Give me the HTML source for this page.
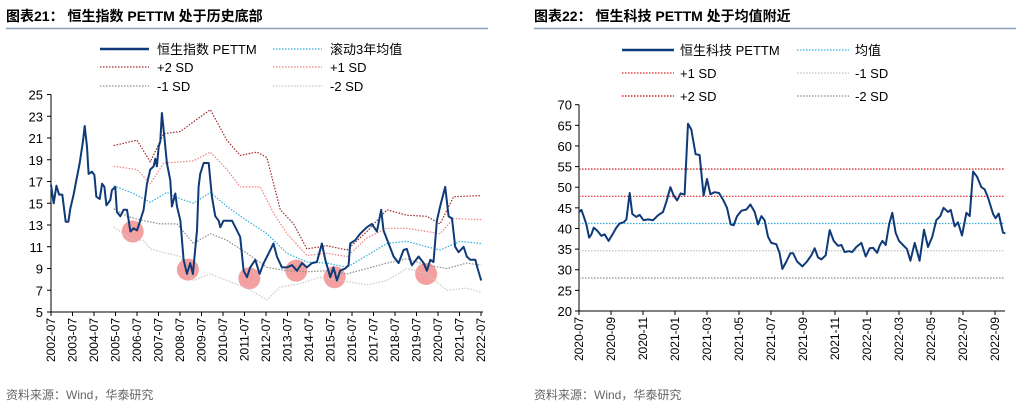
<!DOCTYPE html>
<html><head><meta charset="utf-8">
<style>
body{margin:0;background:#fff;width:1024px;height:405px;overflow:hidden;font-family:"Liberation Sans","Noto Sans CJK SC",sans-serif;}
svg{position:absolute;left:0;top:0}
</style></head>
<body>
<svg width="1024" height="405" xmlns="http://www.w3.org/2000/svg" font-family="Liberation Sans, Noto Sans CJK SC, sans-serif">
<g id="left"></g>
<g id="right"></g>
</svg>
<script>
// ---------- Left chart data (months since 2002-07) ----------
const hsiMonths=[0,1.5,3,4.5,6.3,8.2,9.7,10.8,12.6,14.1,16,17.9,18.8,20.1,21,22.9,24.2,25.3,27.2,28.5,29.8,30.9,33.1,34,35.9,36.8,38.7,40.5,42.4,44.3,46.1,48,49.8,51.7,53.6,55.4,57.3,58.2,59.1,60.1,61,61.9,62.9,64.7,66.6,67.5,69.4,70.3,72.2,74,75.9,77.7,79.2,81.5,82.4,83.3,85.2,88,89.8,91.7,93.6,94.5,96.3,98.2,101,103.8,105.6,107.5,109.4,111.2,114,116.4,118.7,121.5,124.2,126.1,128.9,131.7,134.5,137.3,140.1,142.8,145.6,148.4,151.2,153.1,155.9,157.7,159.6,161.4,164.2,166.1,167,169.8,172.6,176.3,179.1,181.9,184.3,185.6,188.4,191.2,194,196.8,198.6,201.4,205.2,208,209.8,211.7,213.5,215.4,217.2,220,221.9,223.8,225.6,227.5,230.3,232.1,234,236.8,238.1,240.1];
const hsiValues=[16.7,15,16.6,15.8,15.8,13.3,13.3,14.5,15.8,17.1,18.7,20.8,22.1,20.2,17.7,17.9,17.6,15.6,15.4,16.8,16.5,14.8,15.3,16.2,16.5,14.2,13.8,14.4,14.4,12.4,12.7,12.5,13.4,14.4,16.8,18.1,18.4,19.1,18.4,20.2,20.7,23.3,21.7,18.7,17.1,14.7,15.9,14.7,13.4,9.8,8.5,9.5,8.5,12.5,16.5,17.7,18.7,18.7,15.6,13.8,13.4,12.8,13.4,13.4,13.4,12.5,11.9,8.8,8.2,9.1,9.8,8.5,9.5,10.4,11.3,10.1,9.1,9.1,9.3,8.8,9.5,9.1,9.5,9.6,11.3,9.8,8.2,9.1,7.9,8.8,9,9.3,11.3,11.6,12.2,12.8,13.1,12.4,14.4,12.5,11.3,10.1,9.5,10.7,10.8,9.3,10.1,9.5,8.8,9.8,9.6,13.4,14.7,16.5,13.8,13.6,11,10.5,11,10.1,9.8,9.8,9,7.9];
const meanMonths=[35,46.1,55.4,64.7,72.2,79.6,88.9,98.2,109.4,120.5,131.7,142.8,154,165.2,176.3,187.5,198.6,209.8,217.2,228.4,240.1];
const meanValues=[16.6,15.9,15.1,16,15.4,15,16,14.7,13.4,12.2,10.4,9.6,9.5,9.1,10.2,11.3,11.5,11,10.7,11.5,11.3];
const p2Months=[35,48,55.4,62.9,72.2,79.6,88.9,98.2,105.6,115,120.5,128,135.4,142.8,154,165.2,176.3,187.5,198.6,209.8,217.2,224.7,240.1];
const p2Values=[20.3,20.8,18.8,21.4,21.6,22.5,23.6,20.8,19.4,19.7,19.2,14.4,13.1,10.8,11.1,10.7,12.4,14.4,13.9,13.8,13.1,15.6,15.7];
const p1Months=[35,48,55.4,62.9,72.2,79.6,88.9,98.2,105.6,116.8,124.2,131.7,142.8,154,165.2,176.3,187.5,198.6,209.8,217.2,224.7,240.1];
const p1Values=[18.4,18.1,16.8,18.7,18.8,18.9,19.7,18.1,16.5,16.5,14.1,12.2,10.2,10.4,10.1,11.8,12.7,12.7,12.4,12.2,13.6,13.5];
const m1Months=[35,42.4,51.7,61,70.3,79.6,88.9,98.2,109.4,120.5,131.7,142.8,154,165.2,176.3,187.5,198.6,209.8,221,232.1,240.1];
const m1Values=[14.5,13.8,13.4,13.1,13.1,11.3,12.2,11.6,10.4,9.1,8.8,8.7,8.8,8.5,9,9.5,9.9,9.3,9,9.5,9.3];
const m2Months=[35,46.1,51.7,55.4,64.7,72.2,79.6,88.9,98.2,109.4,120.5,128,139.1,150.3,165.2,176.3,187.5,198.6,209.8,221,232.1,240.1];
const m2Values=[12.8,11.6,11.6,10.8,10.4,10.1,7.9,8.5,7.9,7.2,6.1,7.3,7.6,8.2,7.8,7.5,7.9,9,8.5,7,7.2,6.8];
const circleMonths=[45.6,76.4,110.7,136.9,158.3,209.4];
const circleValues=[12.4,8.9,8.1,8.8,8.2,8.5];
const leftYTicks=[5,7,9,11,13,15,17,19,21,23,25];
const leftXLabels=["2002-07","2003-07","2004-07","2005-07","2006-07","2007-07","2008-07","2009-07","2010-07","2011-07","2012-07","2013-07","2014-07","2015-07","2016-07","2017-07","2018-07","2019-07","2020-07","2021-07","2022-07"];

// ---------- Right chart data (months since 2020-07) ----------
const techMonths=[0,.15,.29,.46,.63,.77,.92,1.13,1.4,1.6,1.85,2.08,2.33,2.54,2.79,2.96,3.17,3.33,3.58,3.79,4.04,4.31,4.63,4.94,5.25,5.46,5.71,5.92,6.13,6.35,6.6,6.81,7.02,7.29,7.54,7.79,8,8.21,8.48,8.75,9,9.25,9.48,9.67,9.88,10.15,10.46,10.71,10.98,11.19,11.4,11.6,11.81,12.02,12.33,12.54,12.71,12.96,13.21,13.38,13.63,13.96,14.25,14.52,14.73,14.94,15.15,15.42,15.67,15.92,16.19,16.4,16.6,16.88,17.08,17.33,17.65,17.92,18.17,18.38,18.63,18.79,18.96,19.17,19.38,19.58,19.79,20,20.25,20.5,20.71,20.98,21.29,21.56,21.81,22.08,22.33,22.58,22.79,23.06,23.23,23.48,23.69,23.94,24.21,24.42,24.63,24.88,25.15,25.35,25.56,25.88,26.04,26.23,26.5,26.65];
const techValues=[44,44.5,43,41,37.8,38.5,40.2,39.5,38.2,38.6,37,38.5,40.2,41.2,41.5,42.2,48.6,43.5,42.8,43.3,42,42.2,42,43.2,44,46.5,50,48,46.8,48.5,48.2,65.4,64,58,57.8,48,52,48.3,48.8,48.6,47,45,41,40.8,43,44.3,44.6,45.8,44,41,43,42,38,36.5,36.2,34,30.2,32,34,34,32,30.8,32,33.5,35.2,33,32.5,33.5,39.6,37,35.8,36,34.3,34.5,34.3,35.5,36.5,33.2,35.2,35.3,34.1,35.8,37,36,41,43.8,39,37,36,35,32.2,36.5,32.2,39.7,35.5,38,42,43,45,44,44.5,40.5,41.5,38.3,43.8,43,53.8,52.5,50,49.5,47.5,43.5,42.5,43.6,39,38.8];
const techMean=41.2, techP1=47.8, techP2=54.4, techM1=34.6, techM2=28;
const rightYTicks=[20,25,30,35,40,45,50,55,60,65,70];
const rightXLabels=["2020-07","2020-09","2020-11","2021-01","2021-03","2021-05","2021-07","2021-09","2021-11","2022-01","2022-03","2022-05","2022-07","2022-09"];

const NS="http://www.w3.org/2000/svg";
function mk(parent,tag,attrs,text){const e=document.createElementNS(NS,tag);for(const k in attrs)e.setAttribute(k,attrs[k]);if(text!==undefined)e.textContent=text;parent.appendChild(e);return e;}

// ===== Left chart =====
const L=document.getElementById('left');
const lx0=51,lx1=481,ly0=312,ly1=94.5;
const lxs=m=>lx0+(lx1-lx0)*m/240;
const lys=v=>ly0-(ly0-ly1)*(v-5)/20;
let t=mk(L,'text',{x:6,y:21,'font-size':14,'font-weight':'bold',fill:'#000'},'图表21：  恒生指数 PETTM 处于历史底部');


let r=mk(L,'line',{x1:6,y1:28.5,x2:488,y2:28.5,stroke:'#8aa0b8','stroke-width':1.5});


// axes
let ax=mk(L,'line',{x1:lx0,y1:ly1,x2:lx0,y2:ly0,stroke:'#000','stroke-width':1});


ax=mk(L,'line',{x1:lx0,y1:ly0,x2:lx1+2,y2:ly0,stroke:'#000','stroke-width':1});


leftYTicks.forEach(v=>{const y=lys(v);
 mk(L,'line',{x1:lx0-4,y1:y,x2:lx0,y2:y,stroke:'#000'});
 const e=mk(L,'text',{x:43,y:y+5,'font-size':13,'text-anchor':'end',fill:'#000'},String(v));
 
 });
leftXLabels.forEach((s,i)=>{const x=lxs(i*12);
 mk(L,'line',{x1:x,y1:ly0,x2:x,y2:ly0+4,stroke:'#000'});
 const e=mk(L,'text',{x:0,y:0,'font-size':12,'text-anchor':'end',fill:'#000',transform:`translate(${x+4},${ly0+6}) rotate(-90)`},s);
 
 });
function lpath(ms,vs,stroke,w,dash,name,xs,ys){
 const d=ms.map((m,i)=>(i?'L':'M')+xs(m).toFixed(1)+','+ys(vs[i]).toFixed(1)).join('');
 const p=mk(this,'path',{d,fill:'none',stroke,'stroke-width':w,'stroke-dasharray':dash||'none','stroke-linejoin':'round'});
 
 }
circleMonths.forEach((m,i)=>{const c=mk(L,'circle',{cx:lxs(m),cy:lys(circleValues[i]),r:11,fill:'#f4a0a0'});
 
 });
lpath.call(L,m2Months,m2Values,'#c8c8c8',1.2,'1.5,1.5','minus2sd-line',lxs,lys);
lpath.call(L,m1Months,m1Values,'#8c8c8c',1.2,'1.5,1.5','minus1sd-line',lxs,lys);
lpath.call(L,p1Months,p1Values,'#f08080',1.2,'1.5,1.5','plus1sd-line',lxs,lys);
lpath.call(L,p2Months,p2Values,'#a02828',1.2,'1.5,1.5','plus2sd-line',lxs,lys);
lpath.call(L,meanMonths,meanValues,'#30b0e0',1.2,'1.5,1.5','rolling-mean-line',lxs,lys);
lpath.call(L,hsiMonths,hsiValues,'#0f3a78',2,null,'hsi-pettm-line',lxs,lys);
// left legend
const leftLegend=[[100,49,'#0f3a78',2.5,null,'恒生指数 PETTM'],[273,49,'#30b0e0',1.2,'1.5,1.5','滚动3年均值'],[100,67,'#a02828',1.2,'1.5,1.5','+2 SD'],[273,67,'#f08080',1.2,'1.5,1.5','+1 SD'],[100,86,'#8c8c8c',1.2,'1.5,1.5','-1 SD'],[273,86,'#c8c8c8',1.2,'1.5,1.5','-2 SD']];
leftLegend.forEach(a=>{const g=mk(L,'g',{});
 
 
 mk(g,'line',{x1:a[0],y1:a[1],x2:a[0]+49,y2:a[1],stroke:a[2],'stroke-width':a[3],'stroke-dasharray':a[4]||'none'});
 mk(g,'text',{x:a[0]+57,y:a[1]+5,'font-size':13,fill:'#000'},a[5]);});
t=mk(L,'text',{x:6,y:399,'font-size':12,fill:'#666'},'资料来源：Wind，华泰研究');



// ===== Right chart =====
const R=document.getElementById('right');
const rx0=579,ry0=311,ry1=104.7,mpx=16;
const rxs=m=>rx0+m*mpx;
const rys=v=>ry0-(ry0-ry1)*(v-20)/50;
t=mk(R,'text',{x:534,y:21,'font-size':14,'font-weight':'bold',fill:'#000'},'图表22：  恒生科技 PETTM 处于均值附近');


r=mk(R,'line',{x1:534,y1:28.5,x2:1016,y2:28.5,stroke:'#8aa0b8','stroke-width':1.5});


ax=mk(R,'line',{x1:rx0,y1:ry1,x2:rx0,y2:ry0,stroke:'#000'});


ax=mk(R,'line',{x1:rx0,y1:ry0,x2:1005,y2:ry0,stroke:'#000'});


rightYTicks.forEach(v=>{const y=rys(v);
 mk(R,'line',{x1:rx0-4,y1:y,x2:rx0,y2:y,stroke:'#000'});
 const e=mk(R,'text',{x:572,y:y+5,'font-size':13,'text-anchor':'end',fill:'#000'},String(v));
 
 });
rightXLabels.forEach((s,i)=>{const x=rxs(i*2);
 mk(R,'line',{x1:x,y1:ry0,x2:x,y2:ry0+4,stroke:'#000'});
 const e=mk(R,'text',{x:0,y:0,'font-size':12,'text-anchor':'end',fill:'#000',transform:`translate(${x+4},${ry0+6}) rotate(-90)`},s);
 
 });
const hl=[[techM2,'#8c8c8c','hstech-minus2sd-line'],[techM1,'#c0c0c0','hstech-minus1sd-line'],[techMean,'#30b0e0','hstech-mean-line'],[techP1,'#e02020','hstech-plus1sd-line'],[techP2,'#c00000','hstech-plus2sd-line']];
hl.forEach(h=>{const l=mk(R,'line',{x1:rx0,y1:rys(h[0]),x2:1005,y2:rys(h[0]),stroke:h[1],'stroke-width':1.2,'stroke-dasharray':'1.5,1.5'});
 
 });
lpath.call(R,techMonths,techValues,'#0f3a78',2,null,'hstech-pettm-line',rxs,rys);
const rightLegend=[[622,50,'#0f3a78',2.5,null,'恒生科技 PETTM'],[797,50,'#30b0e0',1.2,'1.5,1.5','均值'],[622,73,'#e02020',1.2,'1.5,1.5','+1 SD'],[797,73,'#c0c0c0',1.2,'1.5,1.5','-1 SD'],[622,96,'#c00000',1.2,'1.5,1.5','+2 SD'],[797,96,'#8c8c8c',1.2,'1.5,1.5','-2 SD']];
rightLegend.forEach(a=>{const g=mk(R,'g',{});
 
 
 mk(g,'line',{x1:a[0],y1:a[1],x2:a[0]+52,y2:a[1],stroke:a[2],'stroke-width':a[3],'stroke-dasharray':a[4]||'none'});
 mk(g,'text',{x:a[0]+58,y:a[1]+5,'font-size':13,fill:'#000'},a[5]);});
t=mk(R,'text',{x:534,y:399,'font-size':12,fill:'#666'},'资料来源：Wind，华泰研究');


</script>
</body></html>
